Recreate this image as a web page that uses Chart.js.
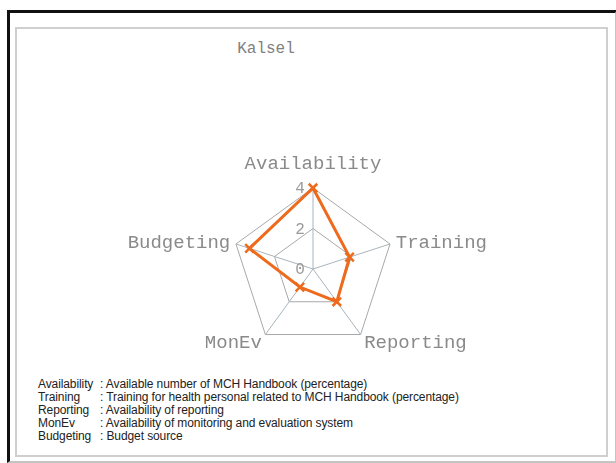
<!DOCTYPE html>
<html>
<head>
<meta charset="utf-8">
<script src="https://cdn.jsdelivr.net/npm/chart.js@4/dist/chart.umd.min.js"></script>
<style>
  html, body { margin: 0; padding: 0; background: #fff; }
  body { width: 616px; height: 463px; position: relative; overflow: hidden; }
  #frame { position: absolute; left: 7px; top: 10px; width: 605px; height: 448px;
    border-left: 3px solid #111; border-top: 3px solid #111;
    border-right: 2px solid #c4c4c4; border-bottom: 2px solid #c4c4c4; }
  #inner { position: absolute; left: 15px; top: 27px; width: 589px; height: 426px;
    border: 2px solid #cfcfcf; }
  #title { position: absolute; left: 216px; width: 100px; top: 40px; text-align: center;
    font: 16px "Liberation Mono", monospace; color: #808080; }
  #wrap { position: absolute; left: 0; top: 0; width: 616px; height: 463px; }
  #notes { position: absolute; left: 38px; top: 378px; font: 12px "Liberation Sans", Arial, sans-serif;
    color: #222; line-height: 13px; letter-spacing: -0.1px; }
  #notes .k { display: inline-block; width: 62px; }
</style>
</head>
<body>
<div id="frame"></div>
<div id="inner"></div>
<div id="title">Kalsel</div>
<div id="notes"></div>
<div id="wrap"><canvas id="radar"></canvas></div>
<script>
// data
const categories = ['Availability', 'Training', 'Reporting', 'MonEv', 'Budgeting'];
const values = [4, 1.9, 2.0, 1.1, 3.3];
const tickLabels = [0, 2, 4];
const notes = [
  'Available number of MCH Handbook (percentage)',
  'Training for health personal related to MCH Handbook (percentage)',
  'Availability of reporting',
  'Availability of monitoring and evaluation system',
  'Budget source'
];

document.getElementById('notes').innerHTML = categories.map((c, i) =>
  `<div><span class="k">${c}</span>: ${notes[i]}</div>`).join('');

// point labels + tick labels drawn beside the vertices like the original
const sideLabels = {
  id: 'sideLabels',
  afterDraw(chart) {
    const scale = chart.scales.r;
    const ctx = chart.ctx;
    const r = scale.drawingArea;
    ctx.save();
    ctx.font = '19px "Liberation Mono", monospace';
    ctx.fillStyle = '#8a8a8a';
    ctx.textBaseline = 'middle';
    categories.forEach((lab, i) => {
      const pad = i === 0 ? 25 : 6;
      const p = scale.getPointPosition(i, r + pad);
      let align = 'center';
      if (p.x > scale.xCenter + 1) align = 'left';
      else if (p.x < scale.xCenter - 1) align = 'right';
      ctx.textAlign = align;
      ctx.fillText(lab, p.x, p.y + (i === 2 || i === 3 ? 4 : 1));
    });
    ctx.font = '16px "Liberation Mono", monospace';
    ctx.fillStyle = '#9a9a9a';
    ctx.textAlign = 'center';
    tickLabels.forEach(v => {
      const p = scale.getPointPositionForValue(0, v);
      ctx.fillText(String(v), p.x - 13, p.y + 1);
    });
    ctx.restore();
  }
};

new Chart(document.getElementById('radar'), {
  type: 'radar',
  data: {
    labels: categories,
    datasets: [{
      data: values,
      borderColor: '#ee6a1c',
      borderWidth: 3,
      fill: false,
      pointStyle: 'crossRot',
      pointRadius: 6,
      pointBorderWidth: 2.5,
      pointBorderColor: '#ee6a1c',
      pointBackgroundColor: '#ee6a1c'
    }]
  },
  options: {
    responsive: true,
    maintainAspectRatio: false,
    animation: false,
    layout: { padding: { left: 232, right: 222, top: 188, bottom: 113 } },
    plugins: { legend: { display: false }, tooltip: { enabled: false } },
    scales: {
      r: {
        min: 0,
        max: 4,
        ticks: { display: false, stepSize: 2 },
        grid: { color: '#a8a8a8', lineWidth: 1 },
        angleLines: { color: '#a8b4bc', lineWidth: 1 },
        pointLabels: { display: false }
      }
    }
  },
  plugins: [sideLabels]
});
</script>
</body>
</html>
